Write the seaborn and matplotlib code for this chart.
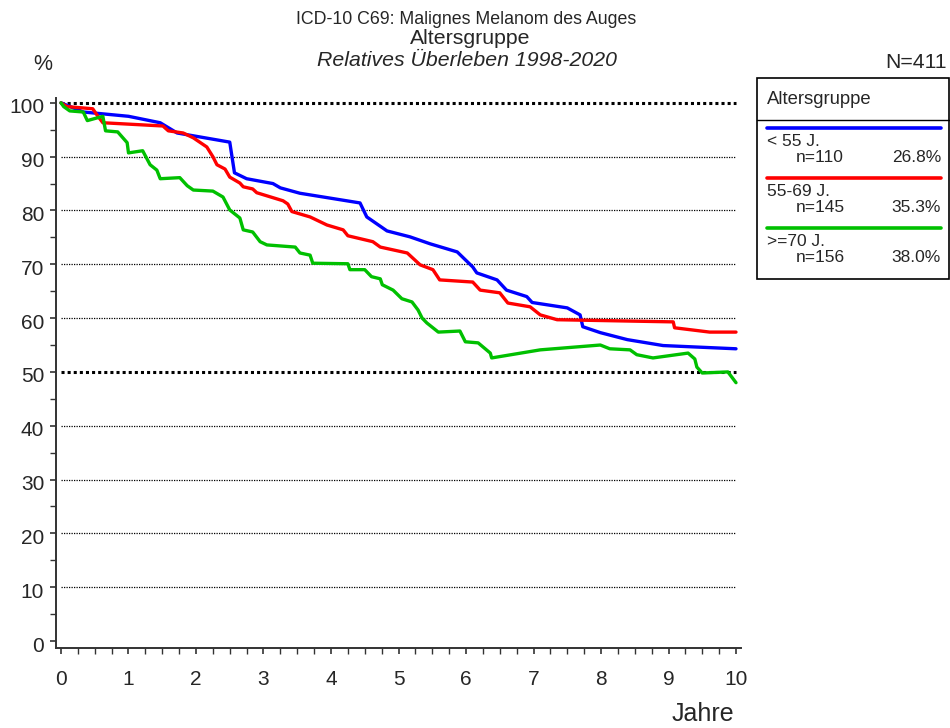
import numpy as np
import pandas as pd
import matplotlib
matplotlib.use("Agg")
import matplotlib.pyplot as plt
import matplotlib.transforms as mtransforms
from matplotlib.patches import Rectangle
from matplotlib.lines import Line2D
import seaborn as sns

# survival curves (years, relative survival in %)
groups = ["< 55 J.", "55-69 J.", ">=70 J."]
group_n = [110, 145, 156]
group_pct = ["26.8%", "35.3%", "38.0%"]
colors = ["#0000FF", "#FF0000", "#00C000"]

years_lt55 = [0, 0.33, 1.0, 1.47, 1.72, 2.5, 2.57, 2.75, 3.14, 3.25, 3.54, 4.43, 4.53,
              4.83, 5.17, 5.47, 5.87, 6.1, 6.16, 6.46, 6.6, 6.9, 6.98, 7.5, 7.69, 7.73,
              7.99, 8.39, 8.92, 10.0]
surv_lt55 = [100, 98.3, 97.5, 96.3, 94.4, 92.7, 87.0, 85.9, 85.0, 84.2, 83.2, 81.4, 78.8,
             76.2, 75.1, 73.8, 72.3, 69.5, 68.4, 67.1, 65.2, 64.0, 62.9, 61.9, 60.6, 58.4,
             57.3, 56.0, 54.9, 54.3]

years_55_69 = [0, 0.09, 0.47, 0.53, 0.62, 1.51, 1.59, 1.81, 1.96, 2.16, 2.25, 2.31, 2.43,
               2.5, 2.65, 2.7, 2.84, 2.9, 3.29, 3.36, 3.42, 3.69, 3.94, 4.18, 4.25, 4.62,
               4.73, 5.13, 5.32, 5.51, 5.61, 6.1, 6.21, 6.5, 6.62, 6.95, 7.1, 7.35, 9.07,
               9.09, 9.61, 10.0]
surv_55_69 = [100, 99.3, 98.9, 97.8, 96.3, 95.7, 94.8, 94.4, 93.5, 91.8, 90.0, 88.5, 87.7,
              86.2, 85.1, 84.4, 84.0, 83.3, 81.8, 81.2, 79.8, 78.8, 77.3, 76.4, 75.3, 74.2,
              73.2, 72.1, 69.9, 69.0, 67.1, 66.7, 65.2, 64.7, 62.8, 62.1, 60.6, 59.7, 59.3,
              58.2, 57.4, 57.4]

years_ge70 = [0, 0.04, 0.13, 0.33, 0.39, 0.62, 0.66, 0.84, 0.98, 1.0, 1.21, 1.32, 1.42,
              1.47, 1.76, 1.87, 1.96, 2.25, 2.4, 2.5, 2.65, 2.7, 2.84, 2.95, 3.05, 3.47,
              3.54, 3.69, 3.73, 4.25, 4.28, 4.5, 4.6, 4.73, 4.76, 4.92, 5.05, 5.2, 5.29,
              5.35, 5.42, 5.59, 5.91, 5.99, 6.18, 6.36, 6.38, 7.1, 7.99, 8.13, 8.43, 8.53,
              8.77, 9.29, 9.39, 9.42, 9.5, 9.88, 10.0]
surv_ge70 = [100, 99.3, 98.5, 98.3, 96.7, 97.5, 94.8, 94.6, 92.6, 90.7, 91.1, 88.5, 87.5,
             85.9, 86.1, 84.6, 83.8, 83.6, 82.5, 80.1, 78.6, 76.4, 76.0, 74.2, 73.6, 73.2,
             72.1, 71.7, 70.2, 70.1, 69.0, 69.0, 67.7, 67.3, 66.2, 65.2, 63.6, 63.0, 61.5,
             60.0, 59.1, 57.4, 57.6, 55.6, 55.4, 53.5, 52.6, 54.1, 55.0, 54.3, 54.1, 53.2,
             52.6, 53.5, 52.4, 50.9, 49.8, 50.0, 48.0]

x_ticks = list(range(0, 11))
y_ticks = list(range(0, 101, 10))

frames = []
for name, t, s in zip(groups,
                      [years_lt55, years_55_69, years_ge70],
                      [surv_lt55, surv_55_69, surv_ge70]):
    frames.append(pd.DataFrame({"Jahre": t, "Ueberleben": s, "Altersgruppe": name}))
data = pd.concat(frames, ignore_index=True)

sns.set_style("white")
plt.rcParams["font.family"] = ["Liberation Sans", "DejaVu Sans"]

W, H = 950, 728
fig = plt.figure(figsize=(W / 100, H / 100), dpi=100)


def fx(px):
    return px / W


def fy(py):
    return 1 - py / H


ax = fig.add_axes([fx(56), fy(648), fx(741) - fx(56), fy(98) - fy(648)])

# grid lines: bold at 100 and 50, thin otherwise
for y in y_ticks:
    if y == 0:
        continue
    if y in (50, 100):
        ax.hlines(y, 0, 10, colors="black", linewidth=2.2, linestyles=(0, (1, 1)), zorder=1)
    else:
        ax.hlines(y, 0, 10, colors="black", linewidth=0.9, linestyles=(0, (1, 1)), zorder=1)

sns.lineplot(
    data=data,
    x="Jahre",
    y="Ueberleben",
    hue="Altersgruppe",
    hue_order=groups,
    palette=colors,
    estimator=None,
    sort=False,
    linewidth=2.4,
    legend=False,
    ax=ax,
    zorder=3,
)

ax.set_xlim(-0.074, 10.074)
ax.set_ylim(-1.3, 100.9)
ax.set_xticks(x_ticks)
ax.set_yticks(y_ticks)
ax.set_xticks(np.arange(0, 10.01, 0.25), minor=True)
ax.set_yticks(range(5, 100, 10), minor=True)
ax.set_xlabel("")
ax.set_ylabel("")
ax.tick_params(axis="both", which="major", labelsize=15, length=4.5, width=1.2,
               color="#333333", direction="out")
ax.tick_params(axis="both", which="minor", length=4.0, width=1.0, color="#333333",
               direction="out")
ax.tick_params(axis="x", which="major", pad=11)
ax.tick_params(axis="y", which="major", pad=4)
ax.tick_params(left=True, bottom=True, which="both")
for side in ["top", "right"]:
    ax.spines[side].set_visible(False)
for side in ["left", "bottom"]:
    ax.spines[side].set_linewidth(1.4)
    ax.spines[side].set_color("#333333")

# shift y tick labels a little downward like the reference
offset = mtransforms.ScaledTranslation(0, -3 / 100, fig.dpi_scale_trans)
for lab in ax.get_yticklabels():
    lab.set_transform(lab.get_transform() + offset)

# titles
fig.text(fx(466), fy(20), "ICD-10 C69: Malignes Melanom des Auges", ha="center",
         va="center", fontsize=12.8)
fig.text(fx(470), fy(39), "Altersgruppe", ha="center", va="center", fontsize=15.3)
fig.text(fx(467), fy(61), "Relatives Überleben 1998-2020", ha="center", va="center",
         fontsize=15.3, style="italic")
fig.text(fx(43), fy(65), "%", ha="center", va="center", fontsize=15.5)
fig.text(fx(947), fy(62), "N=411", ha="right", va="center", fontsize=15.3)
fig.text(fx(703), fy(714), "Jahre", ha="center", va="center", fontsize=18)

# legend box
fig.add_artist(Rectangle((fx(757), fy(279)), fx(949) - fx(757), fy(78) - fy(279),
                         transform=fig.transFigure, fill=False, edgecolor="black",
                         linewidth=1.2))
fig.add_artist(Line2D([fx(757), fx(949)], [fy(120), fy(120)], transform=fig.transFigure,
                      color="black", linewidth=1.0))
fig.text(fx(767), fy(99), "Altersgruppe", ha="left", va="center", fontsize=13.3)
for i, (name, n, pct, col) in enumerate(zip(groups, group_n, group_pct, colors)):
    y0 = 128 + 50 * i
    fig.add_artist(Line2D([fx(767), fx(941)], [fy(y0), fy(y0)], transform=fig.transFigure,
                          color=col, linewidth=2.6))
    fig.text(fx(767), fy(y0 + 14), name, ha="left", va="center", fontsize=12.5)
    fig.text(fx(796), fy(y0 + 29), "n=" + str(n), ha="left", va="center", fontsize=12.5)
    fig.text(fx(941), fy(y0 + 29), pct, ha="right", va="center", fontsize=12.5)

plt.savefig("out.png", dpi=100)
